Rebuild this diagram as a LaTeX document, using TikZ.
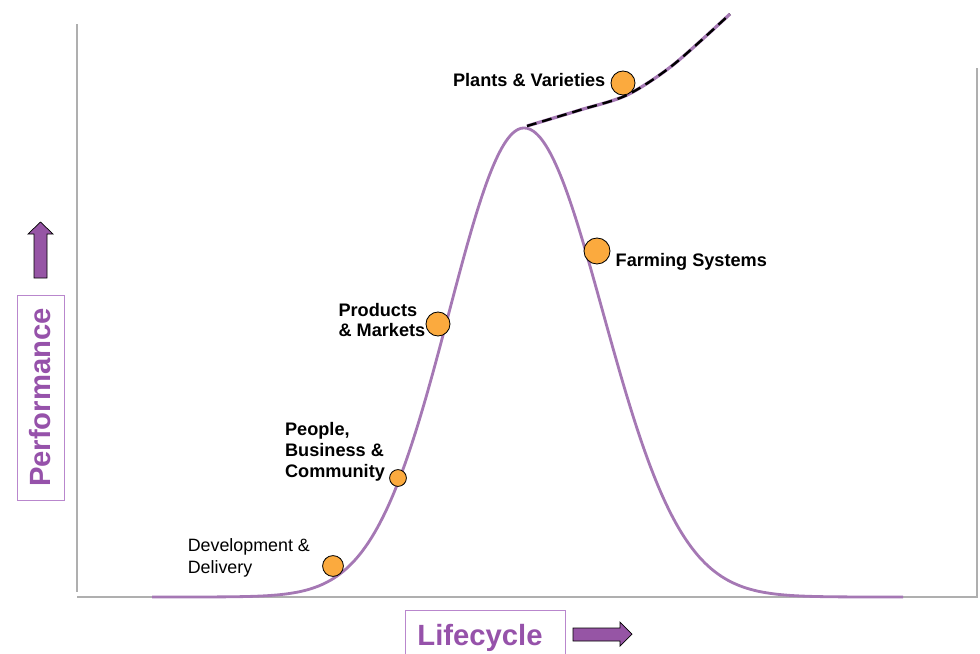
\documentclass[tikz,border=0pt]{standalone}
\usepackage{fontspec}
\setmainfont{Liberation Sans}
\usetikzlibrary{positioning}

\definecolor{curvepurple}{RGB}{165,120,180}
\definecolor{titlepurple}{RGB}{150,82,170}
\definecolor{boxpurple}{RGB}{185,135,205}
\definecolor{arrowpurple}{RGB}{150,85,165}
\definecolor{dotorange}{RGB}{251,170,62}
\definecolor{axisgray}{RGB}{175,175,175}

\begin{document}
\begin{tikzpicture}[x=0.025cm, y=-0.025cm,
    dot/.style={circle, draw=black, line width=0.6pt, fill=dotorange, inner sep=0pt},
    lbl/.style={inner sep=0pt, align=left, font=\fontsize{12.9}{14.9}\selectfont\bfseries},
    axisline/.style={draw=axisgray, line width=1.1pt},
    bell/.style={draw=curvepurple, line width=2pt},
    axistitle/.style={draw=boxpurple, line width=0.6pt, text=titlepurple, inner sep=0pt,
      font=\fontsize{20.8}{24}\selectfont\bfseries},
    blockarrow/.style={fill=arrowpurple, draw=black, line width=0.5pt}]

  \useasboundingbox (0,0) rectangle (980,653);

  % Frame lines
  \draw[axisline] (77,24) -- (77,592);
  \draw[axisline] (77,597) -- (978,597);
  \draw[axisline] (977,68) -- (977,597);

  % Bell curve and the dashed branch off its top
  \draw[bell] plot[domain=152:524, samples=120, smooth] (\x, {597-469*exp(-0.5*((\x-524)/75)^2)})
    -- plot[domain=524:903, samples=120, smooth] (\x, {597-469*exp(-0.5*((\x-524)/79)^2)});
  \draw[bell, line width=2.3pt, postaction={draw=black, line width=1.7pt, dash pattern=on 7pt off 4.2pt}]
    plot[smooth] coordinates {(527,126) (580,110) (627,95) (673,65) (730,14)};

  % Dots along the curve
  \node[dot, minimum size=0.6cm] (plants) at (623,83) {};
  \node[dot, minimum size=0.65cm] (farming) at (597,251) {};
  \node[dot, minimum size=0.6cm] (products) at (438,324) {};
  \node[dot, minimum size=0.42cm] (people) at (398,478) {};
  \node[dot, minimum size=0.52cm] (delivery) at (333,566) {};

  % Labels next to the dots
  \node[lbl, left=0.125cm of plants, yshift=0.07cm] (plantslbl) {Plants \& Varieties};
  \node[lbl, right=0.125cm of farming, yshift=-0.28cm] (farminglbl) {Farming Systems};
  \node[lbl, left=0cm of products, yshift=0.1cm] (productslbl) {Products\\\& Markets};
  \node[lbl, left=0.1cm of people, yshift=0.66cm] (peoplelbl) {People,\\Business \&\\Community};
  \node[lbl, font=\fontsize{12.7}{15.4}\selectfont, left=0.3cm of delivery, yshift=0.2cm]
    (deliverylbl) {Development \&\\Delivery};

  % Axis titles with block arrows
  \node[axistitle, rotate=90, minimum width=5.125cm, minimum height=1.175cm] (perf) at (40.5,397.5) {Performance};
  \node[axistitle, anchor=north west, text width=3.4cm, inner xsep=0.3cm, minimum height=1.385cm,
    align=left] (life) at (405,610) {Lifecycle};

  \draw[blockarrow] (34,278) -- (34,234) -- (28,234) -- (40.5,222) -- (53,234) -- (47,234) -- (47,278) -- cycle;
  \draw[blockarrow] (573,628) -- (620,628) -- (620,622) -- (632,634) -- (620,646) -- (620,641) -- (573,641) -- cycle;

\end{tikzpicture}
\end{document}
